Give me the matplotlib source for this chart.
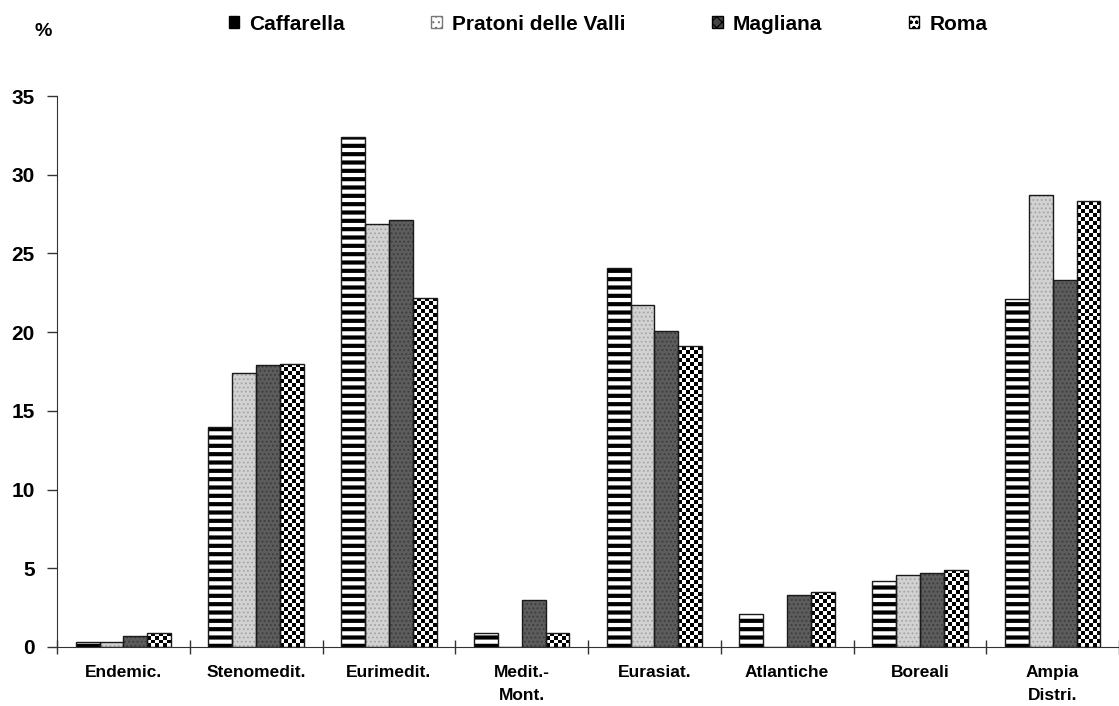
import numpy as np
import matplotlib
matplotlib.use('Agg')
import matplotlib.pyplot as plt
from matplotlib.patches import Patch

# chorological spectrum (%) for the three sites and Rome
categories = ['Endemic.', 'Stenomedit.', 'Eurimedit.', 'Medit.-\nMont.',
              'Eurasiat.', 'Atlantiche', 'Boreali', 'Ampia\nDistri.']
caffarella = [0.3, 14.0, 32.4, 0.9, 24.1, 2.1, 4.2, 22.1]
pratoni    = [0.3, 17.4, 26.9, 0.0, 21.7, 0.0, 4.6, 28.7]
magliana   = [0.7, 17.9, 27.1, 3.0, 20.1, 3.3, 4.7, 23.3]
roma       = [0.9, 18.0, 22.2, 0.9, 19.1, 3.5, 4.9, 28.3]
series_names = ['Caffarella', 'Pratoni delle Valli', 'Magliana', 'Roma']
yticks = [0, 5, 10, 15, 20, 25, 30, 35]

plt.rcParams['font.family'] = ['Liberation Sans', 'DejaVu Sans']
plt.rcParams['font.weight'] = 'bold'
plt.rcParams['hatch.linewidth'] = 3.0

fig = plt.figure(figsize=(11.19, 7.06), dpi=100)
ax = fig.add_axes([0.051, 0.0836, 0.949, 0.7804])

x = np.arange(len(categories))
w = 0.18
offs = (np.arange(4) - 1.5) * w

def outline(vals, pos):
  # black frame drawn on top of the textured fill
  ax.bar(pos, vals, w, facecolor='none', edgecolor='#1a1a1a', linewidth=1.0, zorder=3)

ax.bar(x + offs[0], caffarella, w, facecolor='white', edgecolor='black',
       hatch='--', linewidth=0)
outline(caffarella, x + offs[0])

plt.rcParams['hatch.linewidth'] = 0.8
ax.bar(x + offs[1], pratoni, w, facecolor='#d2d2d2', edgecolor='#a5a5a5',
       hatch='....', linewidth=0)
outline(pratoni, x + offs[1])

ax.bar(x + offs[2], magliana, w, facecolor='#5c5c5c', edgecolor='#3c3c3c',
       hatch='....', linewidth=0)
outline(magliana, x + offs[2])

b4 = ax.bar(x + offs[3], roma, w, facecolor='white', edgecolor='black',
            linewidth=0)

ax.set_xlim(-0.5, len(categories) - 0.5)
ax.set_ylim(0, 35)

# checkerboard texture for the Roma bars, clipped to each bar
fig.canvas.draw()
for p in b4.patches:
  h = p.get_height()
  if h <= 0:
    continue
  x0 = p.get_x()
  x1 = x0 + p.get_width()
  px = ax.transData.transform([(x0, 0), (x1, h)])
  nx = 6
  ny = max(1, int(round((px[1, 1] - px[0, 1]) / ((px[1, 0] - px[0, 0]) / nx))))
  ii, jj = np.indices((ny, nx))
  tex = ((ii + jj) % 2).astype(float)
  im = ax.imshow(tex, cmap='gray', extent=(x0, x1, 0, h), aspect='auto',
                 interpolation='nearest', origin='lower', zorder=2)
  im.set_clip_path(p)
outline(roma, x + offs[3])

ax.set_xlim(-0.5, len(categories) - 0.5)
ax.set_ylim(0, 35)

for s in ['top', 'right']:
  ax.spines[s].set_visible(False)
ax.spines['left'].set_color('#333333')
ax.spines['bottom'].set_color('#333333')
ax.spines['bottom'].set_zorder(4)

ax.set_yticks(yticks)
ax.set_yticklabels([str(t) for t in yticks], fontsize=15, fontweight='bold')
ax.tick_params(axis='y', direction='out', length=7, width=1, pad=9, color='#333333')

ax.set_xticks(x)
ax.set_xticklabels(categories, fontsize=12.5, fontweight='bold', linespacing=1.65)
ax.tick_params(axis='x', which='major', length=0, pad=13)
ax.set_xticks(np.arange(len(categories) + 1) - 0.5, minor=True)
ax.tick_params(axis='x', which='minor', direction='inout', length=10, width=1,
               color='#333333')

fig.text(0.031, 0.955, '%', fontsize=14, fontweight='bold', ha='left', va='center')

handles = [Patch(facecolor='black', edgecolor='black'),
           Patch(facecolor='white', edgecolor='#777777', hatch='...'),
           Patch(facecolor='#444444', edgecolor='black', hatch='xxx'),
           Patch(facecolor='white', edgecolor='black', hatch='ooo')]
fig.legend(handles, series_names, loc='center', bbox_to_anchor=(0.5435, 0.966),
           ncol=4, frameon=False, handlelength=0.5, handleheight=0.45,
           handletextpad=0.5, columnspacing=4.15,
           prop={'size': 15, 'weight': 'bold'})

fig.savefig('out.png', dpi=100, facecolor='white')
